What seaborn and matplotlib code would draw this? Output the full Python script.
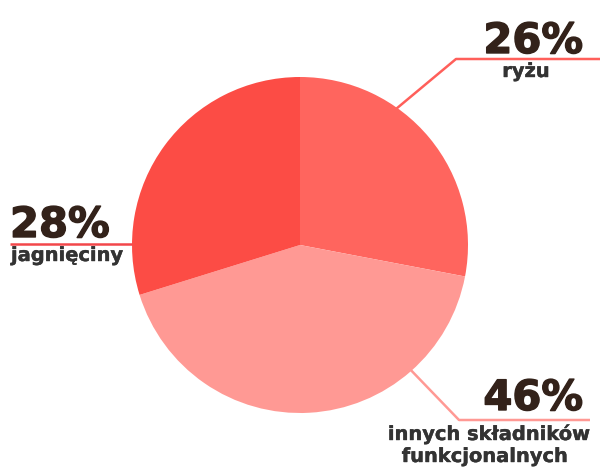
import matplotlib
matplotlib.use("Agg")
import matplotlib.pyplot as plt
import matplotlib.patheffects as pe
import seaborn as sns

# ---- data ----
categories = ["ryżu", "innych składników\nfunkcjonalnych", "jagnięciny"]
pct_labels = ["26%", "46%", "28%"]
# wedge shares as drawn in the reference picture
shares = [28.0, 42.2, 29.8]
colors = ["#FF655E", "#FF9994", "#FC4C45"]
line_colors = ["#FF5F5A", "#FF9994", "#F2474A"]

sns.set_theme(style="white")
plt.rcParams['font.family'] = ['DejaVu Sans']

W, H = 600, 474
fig = plt.figure(figsize=(6, 4.74), dpi=100)
ax = fig.add_axes([0, 0, 1, 1])

def py(y):
    return H - y

cx, cy, r = 300, 245, 168
ax.pie(shares, colors=colors, startangle=90, counterclock=False,
       center=(cx, py(cy)), radius=r, wedgeprops=dict(linewidth=0),
       frame=False)
ax.set_xlim(0, W)
ax.set_ylim(0, H)
ax.set_aspect("equal")
ax.axis("off")

lw = 1.8
# leader lines (drawn behind the pie)
ax.plot([390, 456, 600], [py(114), py(59), py(59)], color=line_colors[0], lw=lw, zorder=0, solid_capstyle="butt")
ax.plot([405, 459, 590], [py(364), py(420), py(420)], color=line_colors[1], lw=lw, zorder=0, solid_capstyle="butt")
ax.plot([10, 150], [py(244), py(244)], color=line_colors[2], lw=lw, zorder=0, solid_capstyle="butt")

pct_color = "#33221A"
lab_color = "#333333"
pct_fs = 30
lab_fs = 14
thick = [pe.withStroke(linewidth=1.0, foreground=pct_color)]
thin = [pe.withStroke(linewidth=0.3, foreground=lab_color)]

ax.text(583, py(53), pct_labels[0], ha="right", va="baseline", fontsize=pct_fs,
        fontweight="bold", color=pct_color, path_effects=thick)
ax.text(526, py(77), categories[0], ha="center", va="baseline", fontsize=lab_fs,
        fontweight="bold", color=lab_color, path_effects=thin)

ax.text(583, py(410), pct_labels[1], ha="right", va="baseline", fontsize=pct_fs,
        fontweight="bold", color=pct_color, path_effects=thick)
l1, l2 = categories[1].split("\n")
ax.text(489, py(440), l1, ha="center", va="baseline", fontsize=lab_fs,
        fontweight="bold", color=lab_color, path_effects=thin)
ax.text(485, py(462), l2, ha="center", va="baseline", fontsize=lab_fs,
        fontweight="bold", color=lab_color, path_effects=thin)

ax.text(10, py(237), pct_labels[2], ha="left", va="baseline", fontsize=pct_fs,
        fontweight="bold", color=pct_color, path_effects=thick)
ax.text(11, py(261), categories[2], ha="left", va="baseline", fontsize=lab_fs,
        fontweight="bold", color=lab_color, path_effects=thin)

fig.savefig("out.png", dpi=100)
